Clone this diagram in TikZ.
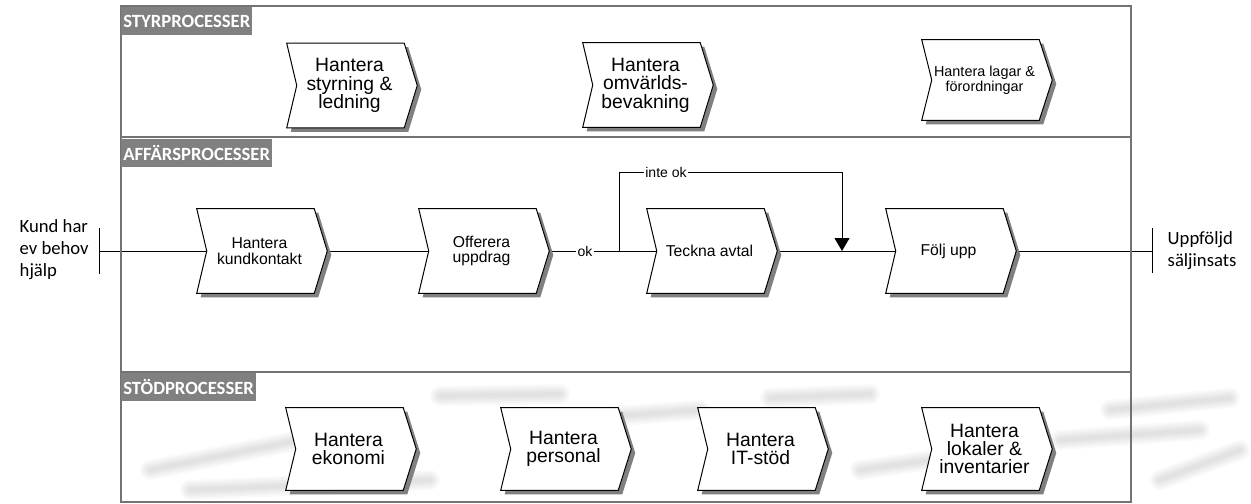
\documentclass[tikz,border=0pt]{standalone}
\usepackage{fontspec}
\setmainfont{Liberation Sans}
\newfontfamily\carl{Carlito}
\usetikzlibrary{arrows.meta,calc}
\pgfdeclarelayer{bg}\pgfdeclarelayer{shp}\pgfdeclarelayer{haze}\pgfsetlayers{haze,bg,shp,main}
\begin{document}
\begin{tikzpicture}[x=0.75pt,y=-0.75pt,
 frame/.style={draw=black!55,line width=0.9pt},
 head/.style={anchor=north west,fill=black!50,text=white,font=\carl\bfseries\fontsize{14}{14}\selectfont,minimum height=21pt,inner xsep=1.5pt,inner ysep=0pt},
 proc/.style={minimum width=87.75pt,minimum height=63pt,inner sep=0pt,align=center},
 big/.style={font=\fontsize{14.5}{13.8}\selectfont},
 small/.style={font=\fontsize{11.8}{11.5}\selectfont},
 tiny/.style={font=\fontsize{10.8}{11.2}\selectfont},
 conn/.style={draw=black,line width=0.75pt},
 lbl/.style={fill=white,inner sep=1pt,font=\fontsize{10.5}{10.5}\selectfont},
 side/.style={font=\carl\fontsize{14}{16.5}\selectfont,align=left},
 hz/.style={line cap=round,draw=black,opacity=0.025}
]
\useasboundingbox (0,0) rectangle (1251,503);
% faint blurred background streaks
\begin{pgfonlayer}{haze}
\foreach \a/\b/\c/\d in {440/396/560/394, 770/398/870/394, 1110/410/1230/398, 150/470/300/440, 190/490/430/480, 560/420/700/410, 860/470/930/460, 1060/440/1200/430, 1160/480/1240/450}{
 \foreach \w in {3,6,9,12,15}{\draw[hz,line width=\w pt] (\a,\b) -- (\c,\d);}
}
\end{pgfonlayer}
% frame and lanes
\draw[frame] (121,6) rectangle (1131,502);
\draw[frame] (121,137) -- (1131,137);
\draw[frame] (121,372) -- (1131,372);
\node[head] (h1) at (121,7) {STYRPROCESSER};
\node[head] (h2) at (121,139) {AFFÄRSPROCESSER};
\node[head] (h3) at (121,373) {STÖDPROCESSER};
% processes
\node[proc,big] (sty) at (349.5,85.5) {Hantera\\styrning \&\\ledning};
\node[proc,big] (omv) at (645.5,85) {Hantera\\omvärlds-\\bevakning};
\node[proc,tiny,minimum height=60pt] (lag) at (984.5,80) {Hantera lagar \&\\förordningar};
\node[proc,small] (kun) at (259.5,251) {Hantera\\kundkontakt};
\node[proc,small] (off) at (481.5,251) {Offerera\\uppdrag};
\node[proc,small] (tec) at (709.5,251) {Teckna avtal};
\node[proc,small] (fol) at (948.5,251) {Följ upp};
\node[proc,big,minimum height=61.5pt] (eko) at (348.5,449) {Hantera\\ekonomi};
\node[proc,big,minimum height=61.5pt] (per) at (563.5,449) {Hantera\\personal};
\node[proc,big,minimum height=61.5pt] (its) at (760.5,449) {Hantera\\IT-stöd};
\node[proc,big,minimum height=61.5pt] (lok) at (984.5,449) {Hantera\\lokaler \&\\inventarier};
\foreach \n in {sty,omv,lag,kun,off,tec,fol,eko,per,its,lok}{
 \begin{pgfonlayer}{shp}
 \fill[black!50] ($(\n.north west)+(0,4)$) -- ($(\n.north east)+(0,4)$) -- ($(\n.east)+(13,4)$) -- ($(\n.south east)+(0,4)$) -- ($(\n.south west)+(0,4)$) -- ($(\n.west)+(10,4)$) -- cycle;
 \filldraw[fill=white,draw=black,line width=0.75pt] ($(\n.north west)+(-4,0)$) -- ($(\n.north east)+(-4,0)$) -- ($(\n.east)+(9,0)$) -- ($(\n.south east)+(-4,0)$) -- ($(\n.south west)+(-4,0)$) -- ($(\n.west)+(6,0)$) -- cycle;
 \end{pgfonlayer}
}
% events
\node[side,anchor=west] (kund) at (15,250) {Kund har\\ev behov\\hjälp};
\node[side,anchor=west] (upp) at (1163,251) {Uppföljd\\säljinsats};
\coordinate (kt) at (99,251);
\coordinate (ut) at (1152,251);
\coordinate (br) at (619,251);
\coordinate (brtop) at (619,172);
\coordinate (mrg) at (842,251);
\node[lbl] (okl) at (585,251) {ok};
\node[lbl] (iok) at (666,172) {inte ok};
\begin{pgfonlayer}{bg}
\draw[conn] ($(kt)+(0,-23)$) -- ($(kt)+(0,23)$);
\draw[conn] ($(ut)+(0,-23)$) -- ($(ut)+(0,22)$);
\draw[conn] (kt) -- (kun.center);
\draw[conn] (kun.center) -- (off.center);
\draw[conn] (off.center) -- (tec.center);
\draw[conn] (tec.center) -- (fol.center);
\draw[conn] (fol.center) -- (ut);
\draw[conn,-{Triangle[width=11.25pt,length=9.75pt]}] (br) -- (brtop) -| (mrg);
\end{pgfonlayer}
\end{tikzpicture}
\end{document}
